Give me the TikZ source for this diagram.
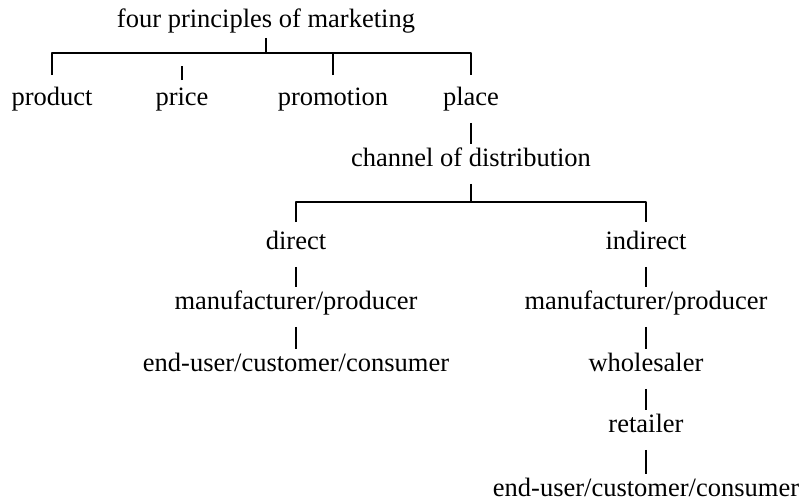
\documentclass[tikz,border=0pt]{standalone}
\usepackage{fontspec}
\setmainfont{Liberation Serif}
\begin{document}
\begin{tikzpicture}[x=1pt, y=-1pt, font=\fontsize{26.5}{30}\selectfont, line join=round, line width=1.8pt,
  lbl/.style={anchor=base, inner sep=0pt, text height=22pt, text depth=16pt}]
\useasboundingbox (0,0) rectangle (804,502);
\def\rowa{106} \def\rowb{250}
% root and the four p's
\node[lbl, text depth=9pt] (root) at (266,28) {four principles of marketing};
\coordinate (bar1) at (266,53);
\foreach\nm/\x in{product/52,price/182,promotion/333,place/471}
\node[lbl, text height=30pt] (\nm) at (\x,\rowa) {\nm};
\draw (root) -- (bar1);
\draw (product.north) -- (product.north |- bar1) -- (place.north |- bar1) -- (place.north);
\draw (promotion.north) -- (promotion.north |- bar1);
\draw ([yshift=-5pt]price.north) -- ++(0,-14);
% channel
\node[lbl] (channel) at (471,167) {channel of distribution};
\coordinate (bar2) at (471,202);
\draw (place) -- (channel);
\draw (channel) -- (bar2);
\node[lbl, text height=27pt] (direct) at (296,\rowb) {direct};
\node[lbl, text height=27pt] (indirect) at (646,\rowb) {indirect};
\draw (direct.north) -- (direct.north |- bar2) -- (indirect.north |- bar2) -- (indirect.north);
% direct branch
\node[lbl] (manuA) at (296,310) {manufacturer/producer};
\node[lbl] (userA) at (296,372) {end-user/customer/consumer};
% indirect branch
\node[lbl] (manuB) at (646,310) {manufacturer/producer};
\node[lbl] (wholesaler) at (646,372) {wholesaler};
\node[lbl] (retailer) at (646,433) {retailer};
\node[lbl] (userB) at (646,497) {end-user/customer/consumer};
\foreach\a/\b in{direct/manuA,manuA/userA,indirect/manuB,manuB/wholesaler,wholesaler/retailer,retailer/userB}
\draw (\a) -- (\b);
\end{tikzpicture}
\end{document}
